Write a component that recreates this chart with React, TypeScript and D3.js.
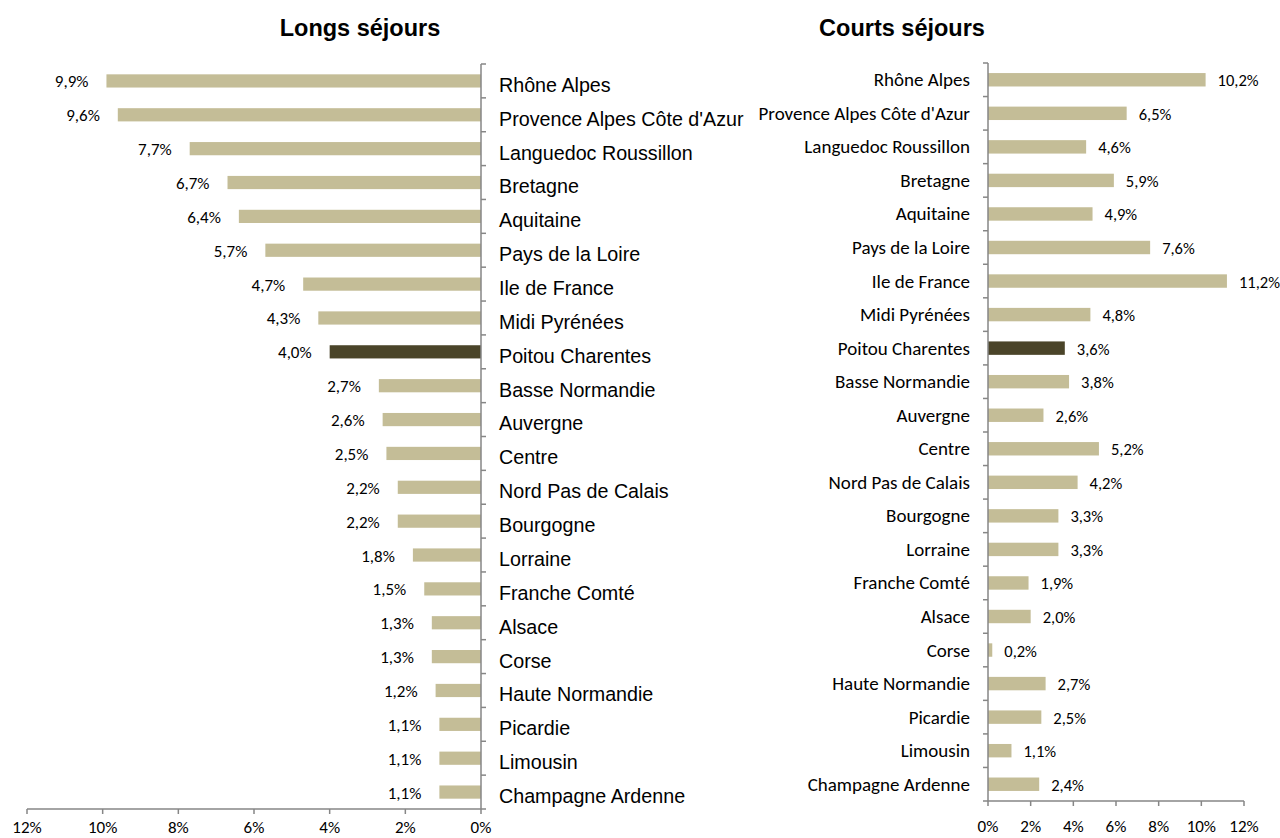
import React, { useEffect, useRef } from 'react';
import * as d3 from 'd3';

// long stays (left panel), share of nights by region, %
const longRegions = [
  'Rhône Alpes', "Provence Alpes Côte d'Azur", 'Languedoc Roussillon', 'Bretagne', 'Aquitaine',
  'Pays de la Loire', 'Ile de France', 'Midi Pyrénées', 'Poitou Charentes', 'Basse Normandie',
  'Auvergne', 'Centre', 'Nord Pas de Calais', 'Bourgogne', 'Lorraine', 'Franche Comté',
  'Alsace', 'Corse', 'Haute Normandie', 'Picardie', 'Limousin', 'Champagne Ardenne'
];
const longValues = [9.9, 9.6, 7.7, 6.7, 6.4, 5.7, 4.7, 4.3, 4.0, 2.7, 2.6, 2.5, 2.2, 2.2, 1.8, 1.5, 1.3, 1.3, 1.2, 1.1, 1.1, 1.1];

// short stays (right panel)
const shortRegions = [
  'Rhône Alpes', "Provence Alpes Côte d'Azur", 'Languedoc Roussillon', 'Bretagne', 'Aquitaine',
  'Pays de la Loire', 'Ile de France', 'Midi Pyrénées', 'Poitou Charentes', 'Basse Normandie',
  'Auvergne', 'Centre', 'Nord Pas de Calais', 'Bourgogne', 'Lorraine', 'Franche Comté',
  'Alsace', 'Corse', 'Haute Normandie', 'Picardie', 'Limousin', 'Champagne Ardenne'
];
const shortValues = [10.2, 6.5, 4.6, 5.9, 4.9, 7.6, 11.2, 4.8, 3.6, 3.8, 2.6, 5.2, 4.2, 3.3, 3.3, 1.9, 2.0, 0.2, 2.7, 2.5, 1.1, 2.4];

const axisTicks = [0, 2, 4, 6, 8, 10, 12];
const highlight = 'Poitou Charentes';

const barColor = '#c4bd97';
const barDark = '#4a4429';
const axisColor = '#868686';
const calibri = 'Carlito, "Open Sans", sans-serif';
const arial = '"Liberation Sans", Arial, sans-serif';

const fmt = (v: number) => d3.format('.1f')(v).replace('.', ',') + '%';

export default function App() {
  const ref = useRef<SVGSVGElement>(null);

  useEffect(() => {
    const svg = d3.select(ref.current);
    svg.selectAll('*').remove();

    // ---------- left panel: bars grow to the left ----------
    const xL = d3.scaleLinear().domain([0, 12]).range([481, 27]);
    const yL = d3.scaleBand<string>().domain(longRegions).range([64, 809]).paddingInner(0.61).paddingOuter(0.305);
    const gL = svg.append('g');

    gL.selectAll('rect')
      .data(longRegions)
      .enter().append('rect')
      .attr('x', (d, i) => xL(longValues[i]))
      .attr('y', d => yL(d)!)
      .attr('width', (d, i) => xL(0) - xL(longValues[i]))
      .attr('height', yL.bandwidth())
      .attr('fill', d => (d === highlight ? barDark : barColor));

    gL.selectAll('text.val')
      .data(longRegions)
      .enter().append('text')
      .attr('class', 'val')
      .attr('x', (d, i) => xL(longValues[i]) - 18)
      .attr('y', d => yL(d)! + yL.bandwidth() / 2 + 6.5)
      .attr('text-anchor', 'end')
      .style('font-family', calibri)
      .style('font-size', '17px')
      .text((d, i) => fmt(longValues[i]));

    // category axis on the right side of the bars
    const stepL = yL.step();
    gL.append('line')
      .attr('x1', 481).attr('x2', 481).attr('y1', 64).attr('y2', 809)
      .attr('stroke', axisColor).attr('stroke-width', 1.5);
    gL.selectAll('line.ct')
      .data(d3.range(longRegions.length + 1))
      .enter().append('line')
      .attr('class', 'ct')
      .attr('x1', 481).attr('x2', 486)
      .attr('y1', i => 64 + i * stepL).attr('y2', i => 64 + i * stepL)
      .attr('stroke', axisColor).attr('stroke-width', 1.5);
    gL.selectAll('text.cat')
      .data(longRegions)
      .enter().append('text')
      .attr('class', 'cat')
      .attr('x', 499)
      .attr('y', d => yL(d)! + yL.bandwidth() / 2 + 4)
      .attr('dy', '0.35em')
      .style('font-family', arial)
      .style('font-size', '19.7px')
      .text(d => d);

    // value axis at the bottom
    gL.append('line')
      .attr('x1', xL(12)).attr('x2', xL(0)).attr('y1', 809).attr('y2', 809)
      .attr('stroke', axisColor).attr('stroke-width', 1.5);
    gL.selectAll('line.vt')
      .data(axisTicks)
      .enter().append('line')
      .attr('class', 'vt')
      .attr('x1', d => xL(d)).attr('x2', d => xL(d))
      .attr('y1', 809).attr('y2', 814)
      .attr('stroke', axisColor).attr('stroke-width', 1.5);
    gL.selectAll('text.vt')
      .data(axisTicks)
      .enter().append('text')
      .attr('class', 'vt')
      .attr('x', d => xL(d))
      .attr('y', 833)
      .attr('text-anchor', 'middle')
      .style('font-family', calibri)
      .style('font-size', '17px')
      .text(d => d + '%');

    gL.append('text')
      .attr('x', 360).attr('y', 28).attr('dy', '0.35em')
      .attr('text-anchor', 'middle')
      .style('font-family', arial)
      .style('font-size', '23.5px')
      .style('font-weight', 'bold')
      .text('Longs séjours');

    // ---------- right panel ----------
    const xR = d3.scaleLinear().domain([0, 12]).range([988, 1244]);
    const yR = d3.scaleBand<string>().domain(shortRegions).range([63, 801]).paddingInner(0.6).paddingOuter(0.3);
    const gR = svg.append('g');

    gR.selectAll('rect')
      .data(shortRegions)
      .enter().append('rect')
      .attr('x', xR(0))
      .attr('y', d => yR(d)!)
      .attr('width', (d, i) => xR(shortValues[i]) - xR(0))
      .attr('height', yR.bandwidth())
      .attr('fill', d => (d === highlight ? barDark : barColor));

    gR.selectAll('text.val')
      .data(shortRegions)
      .enter().append('text')
      .attr('class', 'val')
      .attr('x', (d, i) => xR(shortValues[i]) + 12)
      .attr('y', d => yR(d)! + yR.bandwidth() / 2 + 6.5)
      .style('font-family', calibri)
      .style('font-size', '16.5px')
      .text((d, i) => fmt(shortValues[i]));

    const stepR = yR.step();
    gR.append('line')
      .attr('x1', 988).attr('x2', 988).attr('y1', 63).attr('y2', 801)
      .attr('stroke', axisColor).attr('stroke-width', 1.5);
    gR.selectAll('line.ct')
      .data(d3.range(shortRegions.length + 1))
      .enter().append('line')
      .attr('class', 'ct')
      .attr('x1', 983).attr('x2', 988)
      .attr('y1', i => 63 + i * stepR).attr('y2', i => 63 + i * stepR)
      .attr('stroke', axisColor).attr('stroke-width', 1.5);
    gR.selectAll('text.cat')
      .data(shortRegions)
      .enter().append('text')
      .attr('class', 'cat')
      .attr('x', 970)
      .attr('y', d => yR(d)! + yR.bandwidth() / 2 + 6.5)
      .attr('text-anchor', 'end')
      .style('font-family', calibri)
      .style('font-size', '19px')
      .text(d => d);

    gR.append('line')
      .attr('x1', xR(0)).attr('x2', xR(12)).attr('y1', 801).attr('y2', 801)
      .attr('stroke', axisColor).attr('stroke-width', 1.5);
    gR.selectAll('line.vt')
      .data(axisTicks)
      .enter().append('line')
      .attr('class', 'vt')
      .attr('x1', d => xR(d)).attr('x2', d => xR(d))
      .attr('y1', 801).attr('y2', 806)
      .attr('stroke', axisColor).attr('stroke-width', 1.5);
    gR.selectAll('text.vt')
      .data(axisTicks)
      .enter().append('text')
      .attr('class', 'vt')
      .attr('x', d => xR(d))
      .attr('y', 832)
      .attr('text-anchor', 'middle')
      .style('font-family', calibri)
      .style('font-size', '17px')
      .text(d => d + '%');

    gR.append('text')
      .attr('x', 902).attr('y', 28).attr('dy', '0.35em')
      .attr('text-anchor', 'middle')
      .style('font-family', arial)
      .style('font-size', '23.5px')
      .style('font-weight', 'bold')
      .text('Courts séjours');
  }, []);

  return (
    <svg
      ref={ref}
      width={1280}
      height={838}
      style={{ position: 'absolute', left: 0, top: 0, background: '#fff' }}
    />
  );
}
